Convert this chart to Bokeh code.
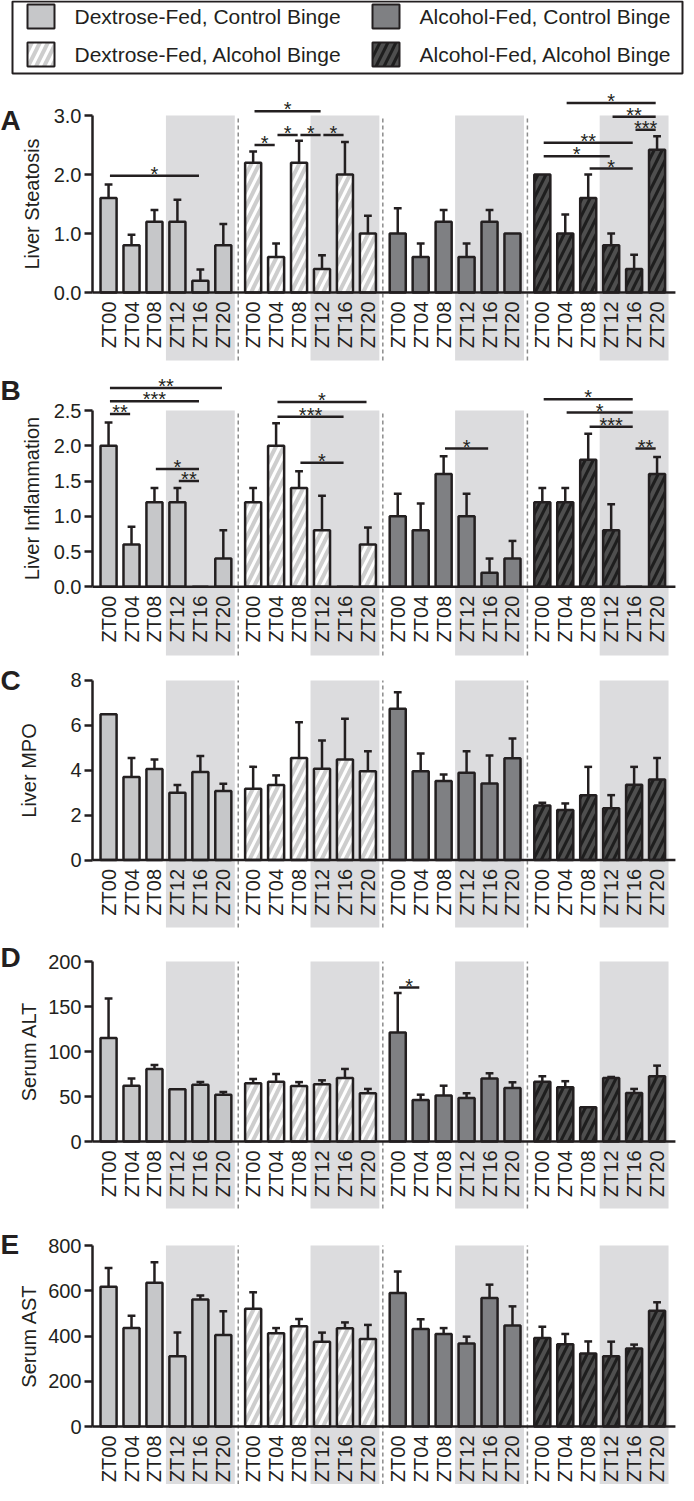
import math
from bokeh.plotting import figure
from bokeh.models import Range1d, FixedTicker, PrintfTickFormatter, LinearAxis
from bokeh.layouts import column
from bokeh.embed import file_html
from bokeh.resources import INLINE
from bokeh.core.properties import value

# ---------------- data ----------------
group_names = ["Dextrose-Fed, Control Binge", "Dextrose-Fed, Alcohol Binge",
               "Alcohol-Fed, Control Binge", "Alcohol-Fed, Alcohol Binge"]
timepoints = ["ZT00", "ZT04", "ZT08", "ZT12", "ZT16", "ZT20"]

steatosis_mean = [[1.6, 0.8, 1.2, 1.2, 0.2, 0.8],
                  [2.2, 0.6, 2.2, 0.4, 2.0, 1.0],
                  [1.0, 0.6, 1.2, 0.6, 1.2, 1.0],
                  [2.0, 1.0, 1.6, 0.8, 0.4, 2.42]]
steatosis_sem = [[0.23, 0.18, 0.2, 0.37, 0.19, 0.36],
                 [0.19, 0.23, 0.37, 0.23, 0.55, 0.3],
                 [0.43, 0.23, 0.2, 0.23, 0.2, 0.0],
                 [0.0, 0.32, 0.4, 0.2, 0.24, 0.23]]
steatosis_sig = [(0, 0, 4, 1.98, "*"),
                 (1, 0, 3, 3.07, "*"), (1, 0, 1, 2.5, "*"), (1, 1, 2, 2.67, "*"),
                 (1, 2, 3, 2.67, "*"), (1, 3, 4, 2.67, "*"),
                 (3, 1, 5, 3.21, "*"), (3, 3, 5, 2.98, "**"), (3, 4, 5, 2.76, "***"),
                 (3, 0, 4, 2.54, "**"), (3, 0, 3, 2.31, "*"), (3, 2, 4, 2.10, "*")]

inflam_mean = [[2.0, 0.6, 1.2, 1.2, 0.0, 0.4],
               [1.2, 2.0, 1.4, 0.8, 0.0, 0.6],
               [1.0, 0.8, 1.6, 1.0, 0.2, 0.4],
               [1.2, 1.2, 1.8, 0.8, 0.0, 1.6]]
inflam_sem = [[0.33, 0.25, 0.2, 0.2, 0.0, 0.4],
              [0.2, 0.32, 0.24, 0.49, 0.0, 0.24],
              [0.32, 0.38, 0.25, 0.32, 0.2, 0.25],
              [0.2, 0.2, 0.37, 0.37, 0.0, 0.24]]
inflam_sig = [(0, 0, 5, 2.82, "**"), (0, 0, 4, 2.63, "***"), (0, 0, 1, 2.45, "**"),
              (0, 2, 4, 1.67, "*"), (0, 3, 4, 1.50, "**"),
              (1, 1, 5, 2.62, "*"), (1, 1, 4, 2.41, "***"), (1, 2, 4, 1.76, "*"),
              (2, 2, 4, 1.96, "*"),
              (3, 0, 4, 2.66, "*"), (3, 1, 4, 2.47, "*"), (3, 2, 4, 2.27, "***"),
              (3, 4, 5, 1.96, "**")]

mpo_mean = [[6.5, 3.7, 4.05, 3.0, 3.92, 3.07],
            [3.18, 3.34, 4.55, 4.07, 4.48, 3.96],
            [6.74, 3.96, 3.52, 3.89, 3.41, 4.53],
            [2.43, 2.23, 2.88, 2.31, 3.35, 3.59]]
mpo_sem = [[0.0, 0.85, 0.43, 0.34, 0.71, 0.33],
           [0.97, 0.43, 1.59, 1.26, 1.81, 0.89],
           [0.74, 0.79, 0.29, 0.96, 1.25, 0.89],
           [0.12, 0.29, 1.27, 0.58, 0.8, 0.96]]
mpo_sig = []

alt_mean = [[115, 62, 80.6, 58, 63, 52],
            [64.7, 66.5, 61.7, 63.6, 70.6, 53.6],
            [121, 46, 51, 48.4, 70, 59.5],
            [66.5, 60.3, 38, 70.6, 54, 72.5]]
alt_sem = [[44, 8, 4.5, 0, 3, 3],
           [4.8, 8.5, 4.3, 4.4, 10, 4.8],
           [44, 6, 11, 5.2, 5.8, 6.3],
           [6, 6.7, 0, 1.1, 4.4, 11.8]]
alt_sig = [(2, 0, 1, 171, "*")]

ast_mean = [[618, 435, 635, 310, 561, 404],
            [520, 412, 443, 375, 434, 387],
            [590, 431, 409, 367, 568, 446],
            [391, 363, 323, 310, 345, 512]]
ast_sem = [[83, 55, 91, 105, 18, 105],
           [73, 23, 32, 40, 26, 62],
           [95, 43, 26, 30, 59, 85],
           [50, 46, 53, 65, 17, 37]]
ast_sig = []

# ---------------- styling / layout ----------------
FONT = "Liberation Sans"
INK = "#231f20"
SHADE = "#dcdcde"
FIG_W = 686
AXIS_PX = 92           # y axis position, px from figure left
PITCH = 22.95          # px per x unit
GSTEP = 6.3            # x units between groups
X0 = -0.7              # x value at the y axis
XL = X0 - AXIS_PX / PITCH
XR = XL + FIG_W / PITCH
XAXIS_END = 3 * GSTEP + 5 + 0.8

styles = [
    dict(fill_color="#c6c7c9"),
    dict(fill_color="white", hatch_pattern="/", hatch_color="#cdcdcd", hatch_scale=16, hatch_weight=4),
    dict(fill_color="#7f8083"),
    dict(fill_color="#1e1e1e", hatch_pattern="/", hatch_color="#4f4f4f", hatch_scale=16, hatch_weight=4),
]

panels = [
    dict(letter="A", ylabel="Liver Steatosis", ticks=[0, 1, 2, 3], fmt="%.1f",
         mean=steatosis_mean, sem=steatosis_sem, sig=steatosis_sig,
         y0=300, ppu=59.0, top=88, bot=372, shade_bot=368, letter_base=128, standoff=8),
    dict(letter="B", ylabel="Liver Inflammation", ticks=[0, 0.5, 1, 1.5, 2, 2.5], fmt="%.1f",
         mean=inflam_mean, sem=inflam_sem, sig=inflam_sig,
         y0=594.25, ppu=70.5, top=372, bot=668, shade_bot=663, letter_base=398, standoff=8),
    dict(letter="C", ylabel="Liver MPO", ticks=[0, 2, 4, 6, 8], fmt="%d",
         mean=mpo_mean, sem=mpo_sem, sig=mpo_sig,
         y0=867.5, ppu=22.44, top=668, bot=940, shade_bot=935, letter_base=688, standoff=27),
    dict(letter="D", ylabel="Serum ALT", ticks=[0, 50, 100, 150, 200], fmt="%d",
         mean=alt_mean, sem=alt_sem, sig=alt_sig,
         y0=1149, ppu=0.9, top=940, bot=1222, shade_bot=1216, letter_base=965, standoff=5),
    dict(letter="E", ylabel="Serum AST", ticks=[0, 200, 400, 600, 800], fmt="%d",
         mean=ast_mean, sem=ast_sem, sig=ast_sig,
         y0=1434, ppu=0.22625, top=1222, bot=1492, shade_bot=1492, letter_base=1252, standoff=5),
]


def xpos(g, i):
    return g * GSTEP + i


def bare_figure(width, height, xr, yr):
    p = figure(width=width, height=height, x_range=xr, y_range=yr,
               output_backend="svg", toolbar_location=None, x_axis_location=None,
               y_axis_location=None, min_border_left=0, min_border_right=0,
               min_border_top=0, min_border_bottom=0)
    p.xgrid.visible = False
    p.ygrid.visible = False
    p.outline_line_color = None
    p.background_fill_color = "white"
    p.border_fill_color = "white"
    return p


def make_panel(cfg):
    ppu = cfg["ppu"]
    y_end = (cfg["y0"] - cfg["top"]) / ppu
    y_start = -(cfg["bot"] - cfg["y0"]) / ppu
    ymax = cfg["ticks"][-1]
    p = bare_figure(FIG_W, cfg["bot"] - cfg["top"], Range1d(XL, XR), Range1d(y_start, y_end))

    ax = LinearAxis(fixed_location=X0)
    ax.ticker = FixedTicker(ticks=cfg["ticks"])
    ax.formatter = PrintfTickFormatter(format=cfg["fmt"])
    ax.bounds = (0, ymax)
    ax.axis_line_width = 2.5
    ax.axis_line_color = INK
    ax.major_tick_line_width = 2.5
    ax.major_tick_line_color = INK
    ax.major_tick_out = 8
    ax.major_tick_in = 0
    ax.minor_tick_line_color = None
    ax.major_label_text_font = FONT
    ax.major_label_text_font_size = "20px"
    ax.major_label_text_color = INK
    ax.major_label_standoff = 3
    ax.axis_label = cfg["ylabel"]
    ax.axis_label_text_font = FONT
    ax.axis_label_text_font_size = "20px"
    ax.axis_label_text_font_style = "normal"
    ax.axis_label_text_color = INK
    ax.axis_label_standoff = cfg["standoff"]
    p.add_layout(ax, "left")

    shade_bot = -(cfg["shade_bot"] - cfg["y0"]) / ppu
    p.quad(left=[xpos(g, 2.5) for g in range(4)], right=[xpos(g, 5.5) for g in range(4)],
           bottom=shade_bot, top=ymax, fill_color=SHADE, line_color=None)
    sx = [xpos(g, 0) - (GSTEP - 5) / 2 for g in range(1, 4)]
    p.segment(x0=sx, y0=shade_bot, x1=sx, y1=ymax, line_color="#8c8c8c",
              line_width=1.5, line_dash="4 3")

    for g in range(4):
        xs = [xpos(g, i) for i in range(6)]
        means = cfg["mean"][g]
        sems = cfg["sem"][g]
        ex = [x for x, s in zip(xs, sems) if s > 0]
        eb = [m for m, s in zip(means, sems) if s > 0]
        et = [m + s for m, s in zip(means, sems) if s > 0]
        p.segment(x0=ex, y0=eb, x1=ex, y1=et, line_color=INK, line_width=2.5)
        p.segment(x0=[x - 0.17 for x in ex], y0=et, x1=[x + 0.17 for x in ex], y1=et,
                  line_color=INK, line_width=2.5)
        p.vbar(x=xs, top=means, bottom=0, width=0.7, line_color=INK, line_width=2.5,
               **styles[g])

    p.segment(x0=[X0], y0=[0], x1=[XAXIS_END], y1=[0], line_color=INK, line_width=2.5)

    lx = [xpos(g, i) for g in range(4) for i in range(6)]
    lt = [timepoints[i] for g in range(4) for i in range(6)]
    p.text(x=lx, y=[-9 / ppu] * len(lx), text=lt, angle=math.pi / 2,
           text_align="right", text_baseline="middle", text_font=value(FONT),
           text_font_size="20px", text_color=INK)

    if cfg["sig"]:
        bx0 = [xpos(g, a) + 0.06 for g, a, b, y, s in cfg["sig"]]
        bx1 = [xpos(g, b) - 0.06 for g, a, b, y, s in cfg["sig"]]
        by = [y for g, a, b, y, s in cfg["sig"]]
        p.segment(x0=bx0, y0=by, x1=bx1, y1=by, line_color=INK, line_width=2.5)
        p.text(x=[(a + b) / 2 for a, b in zip(bx0, bx1)], y=by,
               text=[s for g, a, b, y, s in cfg["sig"]], text_align="center",
               text_baseline="alphabetic", y_offset=-2, text_font=value(FONT),
               text_font_size="20px", text_color=INK)

    p.text(x=[XL], y=[(cfg["y0"] - cfg["letter_base"]) / ppu], text=[cfg["letter"]],
           text_align="left", text_baseline="alphabetic", text_font=value(FONT),
           text_font_size="28px", text_font_style="bold", text_color=INK)
    return p


def make_legend():
    H = 80
    p = bare_figure(FIG_W, H, Range1d(0, FIG_W), Range1d(H, 0))
    p.quad(left=[12], right=[682], top=[1], bottom=[73], fill_color=None,
           line_color=INK, line_width=2)
    sq_x = [40.5, 40.5, 385.5, 385.5]
    sq_y = [16, 54, 16, 54]
    txt_x = [74, 74, 419, 419]
    for g in range(4):
        p.rect(x=[sq_x[g]], y=[sq_y[g]], width=27, height=24, line_color=INK,
               line_width=2, **styles[g])
    p.text(x=txt_x, y=sq_y, text=group_names, text_align="left", text_baseline="middle",
           text_font=value(FONT), text_font_size="21px", text_color=INK)
    return p


layout = column([make_legend()] + [make_panel(c) for c in panels], spacing=0)
open("out.html", "w").write(file_html(layout, INLINE))
